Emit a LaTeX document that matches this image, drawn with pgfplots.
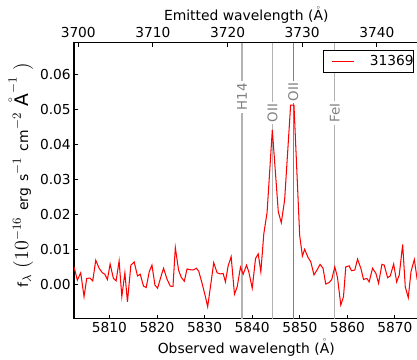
\documentclass[border=0pt]{standalone}
\usepackage{fontspec}
\setmainfont{DejaVu Sans}
\usepackage{pgfplots}
\pgfplotsset{compat=1.18}
\newcommand{\gsp}{\hspace{0pt plus 1fil}}
\newcommand{\mth}[1]{{\fontsize{13.5}{16}\selectfont$#1$}}
\newcommand{\Ang}{$\mathring{\mathrm{A}}$}
\begin{document}
\begin{tikzpicture}
\pgfplotsset{
  common/.style={
    at={(0,0)}, anchor=south west, scale only axis,
    width=248.04pt, height=198.72pt,
    ymin=-0.0098, ymax=0.069,
    tick align=inside,
    major tick length=2.9pt,
    every tick/.style={black, line width=0.7pt},
    axis line style={line width=1.0pt},
    /pgf/number format/assume math mode=true,
    ticklabel style={font=\fontsize{9.9}{11}\selectfont},
    label style={font=\fontsize{11.7}{14}\selectfont, inner sep=0pt},
  }
}
\begin{axis}[common,
  xmin=5802.56, xmax=5874.95,
  xtick={5810,5820,5830,5840,5850,5860,5870},
  xtick pos=bottom, ytick pos=left,
  ytick={0,0.01,0.02,0.03,0.04,0.05,0.06},
  xticklabel style={/pgf/number format/1000 sep={}, anchor=north, inner sep=0pt, yshift=-2.7pt},
  yticklabel style={/pgf/number format/fixed, /pgf/number format/fixed zerofill, /pgf/number format/precision=2, anchor=east, inner sep=0pt, xshift=-2.2pt},
  scaled y ticks=false,
  xlabel={Observed wavelength (\Ang)},
  ylabel={\makebox[162pt][s]{f\mth{_\lambda}\gsp\mth{(10^{-16}}\gsp erg\gsp s\mth{^{-1}}\gsp cm\mth{^{-2}}\gsp\mth{\mathring{\mathrm{A}}^{-1}}\gsp\mth{)}}},
  every axis x label/.style={at={(axis description cs:0.5,0)}, anchor=center, yshift=-20.8pt},
  every axis y label/.style={at={(axis description cs:0,0.5)}, anchor=center, xshift=-38.3pt, yshift=4.1pt, rotate=90},
  legend style={at={(axis description cs:1,1)}, anchor=north east, xshift=-3.2pt, yshift=-5.6pt,
    draw=black, line width=0.6pt, inner xsep=0pt, inner ysep=0pt,
    font=\fontsize{9.9}{11}\selectfont,
    nodes={inner sep=0pt}},
  legend image code/.code={%
    \pgfpathrectangle{\pgfpoint{0pt}{-7.6pt}}{\pgfpoint{22pt}{15.2pt}}\pgfusepath{use as bounding box}%
    \draw[#1, draw=red, line width=0.85pt] (6.5pt,0pt) -- (22pt,0pt);},
]
\addplot[gray!60, line width=1pt, forget plot] coordinates {(5837.86,-0.0098) (5837.86,0.069)};
\addplot[gray!60, line width=1pt, forget plot] coordinates {(5844.28,-0.0098) (5844.28,0.069)};
\addplot[gray, line width=1pt, forget plot] coordinates {(5848.66,-0.0098) (5848.66,0.069)};
\addplot[gray!60, line width=1pt, forget plot] coordinates {(5857.36,-0.0098) (5857.36,0.069)};
\addplot[red, line width=0.75pt] coordinates {
(5802.56,0.0050) (5803.26,0.0012) (5803.97,0.0033) (5804.67,-0.0035) (5805.24,0.0017)
(5805.93,0.0018) (5806.50,0.0010) (5807.13,0.0069) (5807.83,0.0046) (5808.52,0.0033)
(5809.03,0.0029) (5809.58,0.0014) (5810.15,0.0058) (5810.84,0.0017) (5811.41,0.0010)
(5812.04,0.0067) (5812.61,-0.0035) (5813.25,0.0033) (5813.79,-0.0050) (5814.51,0.0055)
(5815.21,0.0064) (5815.90,0.0024) (5816.47,0.0029) (5817.17,-0.0005) (5817.73,-0.0009)
(5818.37,0.0036) (5818.94,0.0055) (5819.57,-0.0002) (5820.12,-0.0011) (5820.83,0.0022)
(5821.38,0.0046) (5822.10,0.0015) (5822.79,-0.0005) (5823.36,-0.0006) (5823.85,0.0105)
(5824.54,0.0040) (5825.11,0.0020) (5825.74,0.0009) (5826.31,0.0044) (5826.86,0.0042)
(5827.58,0.0041) (5828.27,0.0046) (5828.76,0.0038) (5829.47,0.0003) (5830.17,-0.0035)
(5830.65,-0.0064) (5831.37,0.0007) (5831.92,0.0062) (5832.63,0.0033) (5833.33,0.0030)
(5833.90,0.0031) (5834.38,0.0007) (5834.95,0.0053) (5835.58,0.0079) (5836.28,-0.0028)
(5836.85,-0.0007) (5837.54,0.0049) (5838.11,0.0029) (5838.81,0.0055) (5839.29,0.0036)
(5840.01,-0.0011) (5840.71,0.0074) (5841.27,0.0087) (5841.82,0.0036) (5842.45,0.0145)
(5843.13,0.0205) (5844.23,0.0441) (5845.49,0.0207) (5846.12,0.0176) (5846.82,0.0241)
(5848.08,0.0512) (5848.78,0.0512) (5849.98,0.0140) (5850.55,0.0081) (5851.03,0.0100)
(5851.73,0.0077) (5852.30,0.0065) (5852.99,0.0027) (5853.71,0.0043) (5854.26,0.0057)
(5854.89,0.0046) (5855.46,0.0001) (5856.15,0.0005) (5856.72,0.0014) (5857.36,0.0050)
(5857.92,0.0020) (5858.62,-0.0059) (5859.19,-0.0035) (5859.67,0.0050) (5860.37,0.0053)
(5860.87,0.0039) (5861.57,0.0041) (5862.14,0.0072) (5862.83,0.0046) (5863.40,0.0014)
(5864.10,0.0017) (5864.58,0.0007) (5865.30,0.0046) (5866.00,0.0031) (5866.56,0.0003)
(5867.26,0.0057) (5867.74,0.0055) (5868.46,0.0019) (5869.01,0.0024) (5869.73,0.0058)
(5870.36,0.0007) (5870.91,0.0027) (5871.62,0.0114) (5872.17,-0.0007) (5872.80,-0.0038)
(5873.37,0.0036) (5874.07,0.0071) (5874.64,0.0017) (5875.12,0.0030)
};
\addlegendentry{\hspace{11.5pt}31369\hspace{2.9pt}}
\node[rotate=90, fill=white, text=gray, inner sep=1.5pt, font=\fontsize{9.6}{11}\selectfont] at (axis cs:5837.86,0.0535) {H14};
\node[rotate=90, fill=white, text=gray, inner sep=1.5pt, font=\fontsize{9.6}{11}\selectfont] at (axis cs:5844.28,0.0489) {OII};
\node[rotate=90, fill=white, text=gray, inner sep=1.5pt, font=\fontsize{9.6}{11}\selectfont] at (axis cs:5848.66,0.0549) {OII};
\node[rotate=90, fill=white, text=gray, inner sep=1.5pt, font=\fontsize{9.6}{11}\selectfont] at (axis cs:5857.36,0.0489) {FeI};
\end{axis}
\begin{axis}[common,
  xmin=3699.43, xmax=3745.59,
  axis x line*=top, hide y axis,
  xtick={3700,3710,3720,3730,3740},
  xticklabel style={/pgf/number format/1000 sep={}, anchor=south, inner sep=0pt, yshift=3.4pt},
  xlabel={Emitted wavelength (\Ang)},
  every axis x label/.style={at={(axis description cs:0.5,1)}, anchor=center, yshift=19.7pt},
]
\addplot[draw=none, forget plot] coordinates {(3710,0) (3720,0)};
\end{axis}
\pgfresetboundingbox
\path[use as bounding box] (-53.28pt,-29.74pt) rectangle (246.96pt,229.46pt);
\end{tikzpicture}
\end{document}
